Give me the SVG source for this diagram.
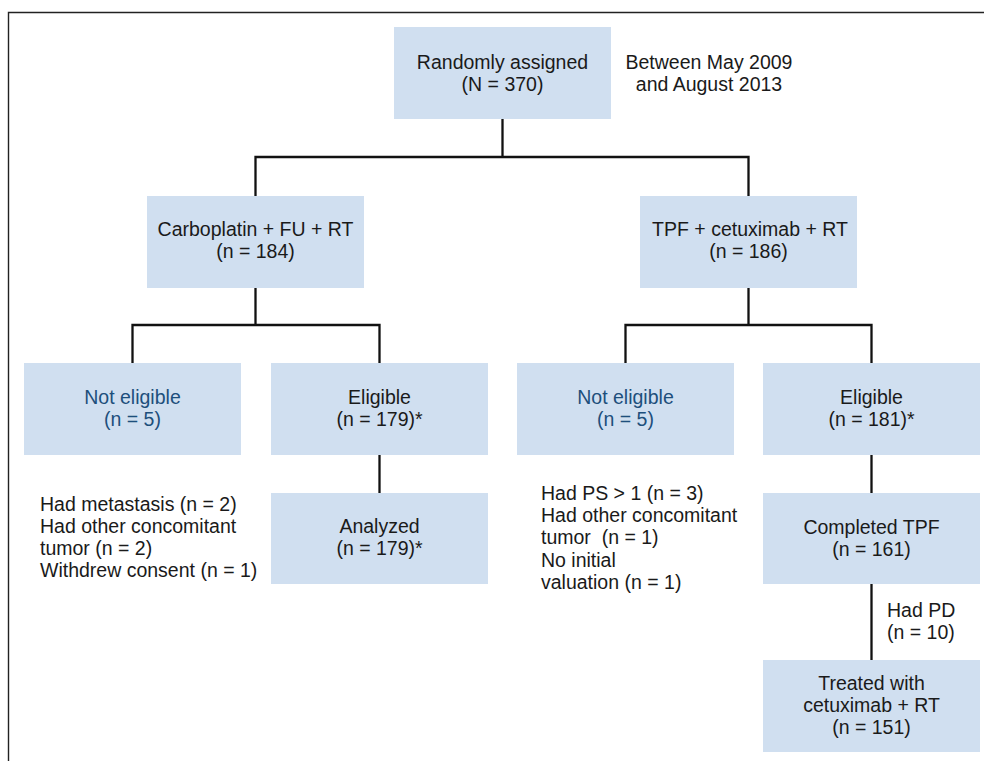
<svg xmlns="http://www.w3.org/2000/svg" width="984" height="761" viewBox="0 0 984 761">
<style>
.box{fill:#d0dff0}
.t{font-family:"Liberation Sans",Arial,Helvetica,sans-serif;font-size:19.5px;fill:#1a1a1a}
.c{text-anchor:middle}
.blue{fill:#1d4f7c}
.ln{fill:none;stroke:#111;stroke-width:2.3}
.frame{fill:none;stroke:#222;stroke-width:1.4}
</style>
<rect width="984" height="761" fill="#fff"/>
<path class="frame" d="M8.5,761 V12.5 H984"/>
<g id="connectors">
<path class="ln" d="M502.5,119 V157 M255.5,196 V157 H748.5 V196"/>
<path class="ln" d="M255.5,288 V325 M132.5,363 V325 H379.5 V363"/>
<path class="ln" d="M748.5,288 V325 M625.5,363 V325 H871.5 V363"/>
<path class="ln" d="M379.5,455 V493"/>
<path class="ln" d="M871.5,455 V493 M871.5,584 V660"/>
</g>
<g id="randomly-assigned">
<rect class="box" x="394" y="27" width="217" height="92"/>
<text class="t c" x="502.5" y="69">Randomly assigned</text>
<text class="t c" x="502.5" y="90.5">(N = 370)</text>
</g>
<g id="date-note">
<text class="t c" x="709" y="69">Between May 2009</text>
<text class="t c" x="709" y="90.5">and August 2013</text>
</g>
<g id="carboplatin-arm">
<rect class="box" x="147" y="196" width="217" height="92"/>
<text class="t c" x="255.5" y="235.5">Carboplatin + FU + RT</text>
<text class="t c" x="255.5" y="258">(n = 184)</text>
</g>
<g id="tpf-arm">
<rect class="box" x="640" y="196" width="217" height="92"/>
<text class="t c" x="750" y="235.5">TPF + cetuximab + RT</text>
<text class="t c" x="748.5" y="258">(n = 186)</text>
</g>
<g id="not-eligible-left">
<rect class="box" x="24" y="363" width="217" height="92"/>
<text class="t c blue" x="132.5" y="404">Not eligible</text>
<text class="t c blue" x="132.5" y="426">(n = 5)</text>
</g>
<g id="eligible-left">
<rect class="box" x="271" y="363" width="217" height="92"/>
<text class="t c" x="379.5" y="404">Eligible</text>
<text class="t c" x="379.5" y="426">(n = 179)*</text>
</g>
<g id="analyzed-left">
<rect class="box" x="271" y="493" width="217" height="91"/>
<text class="t c" x="379.5" y="533">Analyzed</text>
<text class="t c" x="379.5" y="555">(n = 179)*</text>
</g>
<g id="reasons-left">
<text class="t" x="40" y="511">Had metastasis (n = 2)</text>
<text class="t" x="40" y="533">Had other concomitant</text>
<text class="t" x="40" y="555">tumor (n = 2)</text>
<text class="t" x="40" y="577">Withdrew consent (n = 1)</text>
</g>
<g id="not-eligible-right">
<rect class="box" x="517" y="363" width="217" height="92"/>
<text class="t c blue" x="625.5" y="404">Not eligible</text>
<text class="t c blue" x="625.5" y="426">(n = 5)</text>
</g>
<g id="eligible-right">
<rect class="box" x="763" y="363" width="217" height="92"/>
<text class="t c" x="871.5" y="404">Eligible</text>
<text class="t c" x="871.5" y="426">(n = 181)*</text>
</g>
<g id="reasons-right">
<text class="t" x="541" y="499.5">Had PS &gt; 1 (n = 3)</text>
<text class="t" x="541" y="522">Had other concomitant</text>
<text class="t" x="541" y="544" xml:space="preserve">tumor  (n = 1)</text>
<text class="t" x="541" y="566.5">No initial</text>
<text class="t" x="541" y="589">valuation (n = 1)</text>
</g>
<g id="completed-tpf">
<rect class="box" x="763" y="493" width="217" height="91"/>
<text class="t c" x="871.5" y="533.5">Completed TPF</text>
<text class="t c" x="871.5" y="556">(n = 161)</text>
</g>
<g id="had-pd">
<text class="t" x="887" y="617">Had PD</text>
<text class="t" x="887" y="638.5">(n = 10)</text>
</g>
<g id="treated">
<rect class="box" x="763" y="660" width="217" height="92"/>
<text class="t c" x="871.5" y="689.5">Treated with</text>
<text class="t c" x="871.5" y="711.5">cetuximab + RT</text>
<text class="t c" x="871.5" y="733.5">(n = 151)</text>
</g>
</svg>
